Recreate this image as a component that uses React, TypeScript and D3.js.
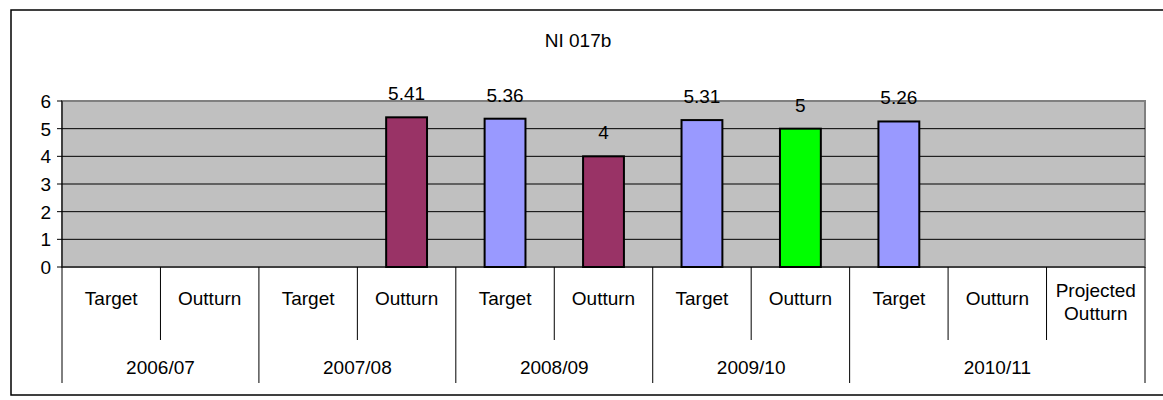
import React from "react";
import * as d3 from "d3";

const title = "NI 017b";
const years = ["2006/07", "2007/08", "2008/09", "2009/10", "2010/11"];
const categories = ["Target", "Outturn", "Target", "Outturn", "Target", "Outturn", "Target", "Outturn", "Target", "Outturn", "Projected Outturn"];
const categoryYear = [0, 0, 1, 1, 2, 2, 3, 3, 4, 4, 4];
const values: (number | null)[] = [null, null, null, 5.41, 5.36, 4, 5.31, 5, 5.26, null, null];
const barColors = ["#9999FF", "#993366", "#9999FF", "#993366", "#9999FF", "#993366", "#9999FF", "#00FF00", "#9999FF", "#993366", "#993366"];
const yTicks = [0, 1, 2, 3, 4, 5, 6];

const W = 1163, H = 400;
const left = 62, right = 1145, top = 101, bottom = 267;
const font = "'Liberation Sans', Arial, sans-serif";
const fs = 19;

export default function App() {
  const x = d3.scaleBand<number>().domain(categories.map((_, i) => i)).range([left, right]).paddingInner(0).paddingOuter(0);
  const y = d3.scaleLinear().domain([0, 6]).range([bottom, top]);
  const bw = x.bandwidth();
  const barW = bw * 0.415;

  const yearBounds = years.map((_, yi) => {
    const idx = categoryYear.map((c, i) => (c === yi ? i : -1)).filter((i) => i >= 0);
    const x0 = x(idx[0])!;
    const x1 = x(idx[idx.length - 1])! + bw;
    return [x0, x1];
  });

  return (
    <svg width={W} height={H} style={{ display: "block", position: "absolute", left: 0, top: 0 }} viewBox={`0 0 ${W} ${H}`}>
      <rect x={11} y={10} width={W + 10} height={385} fill="#fff" stroke="#000" strokeWidth={1.5} />
      <text x={578} y={47} textAnchor="middle" fontFamily={font} fontSize={fs}>{title}</text>
      <rect x={left} y={top} width={right - left} height={bottom - top} fill="#C0C0C0" stroke="#808080" strokeWidth={2} />
      {yTicks.filter((t) => t > 0 && t < 6).map((t) => (
        <line key={t} x1={left} x2={right} y1={y(t)} y2={y(t)} stroke="#000" strokeWidth={1} />
      ))}
      <line x1={left} x2={left} y1={top} y2={bottom} stroke="#000" strokeWidth={1} />
      <line x1={left} x2={right} y1={bottom} y2={bottom} stroke="#000" strokeWidth={1} />
      {yTicks.map((t) => (
        <g key={t}>
          <line x1={left - 5} x2={left} y1={y(t)} y2={y(t)} stroke="#000" />
          <text x={51} y={y(t) + 7} textAnchor="end" fontFamily={font} fontSize={fs}>{t}</text>
        </g>
      ))}
      {values.map((v, i) =>
        v == null ? null : (
          <g key={i}>
            <rect x={x(i)! + (bw - barW) / 2} y={y(v)} width={barW} height={bottom - y(v)} fill={barColors[i]} stroke="#000" strokeWidth={2} />
            <text x={x(i)! + bw / 2} y={y(v) - 17} textAnchor="middle" fontFamily={font} fontSize={fs}>{v}</text>
          </g>
        )
      )}
      {categories.map((c, i) => {
        const cx = x(i)! + bw / 2;
        const words = c.split(" ");
        return (
          <g key={i}>
            {i > 0 && categoryYear[i] === categoryYear[i - 1] && (
              <line x1={x(i)} x2={x(i)} y1={bottom} y2={340} stroke="#000" />
            )}
            {words.length === 1 ? (
              <text x={cx} y={305} textAnchor="middle" fontFamily={font} fontSize={fs}>{c}</text>
            ) : (
              words.map((w, k) => (
                <text key={k} x={cx} y={297 + k * 23} textAnchor="middle" fontFamily={font} fontSize={fs}>{w}</text>
              ))
            )}
          </g>
        );
      })}
      {yearBounds.map(([x0, x1], yi) => (
        <g key={yi}>
          <line x1={x0} x2={x0} y1={bottom} y2={383} stroke="#000" />
          {yi === years.length - 1 && <line x1={x1} x2={x1} y1={bottom} y2={383} stroke="#000" />}
          <text x={(x0 + x1) / 2} y={374} textAnchor="middle" fontFamily={font} fontSize={fs}>{years[yi]}</text>
        </g>
      ))}
    </svg>
  );
}
